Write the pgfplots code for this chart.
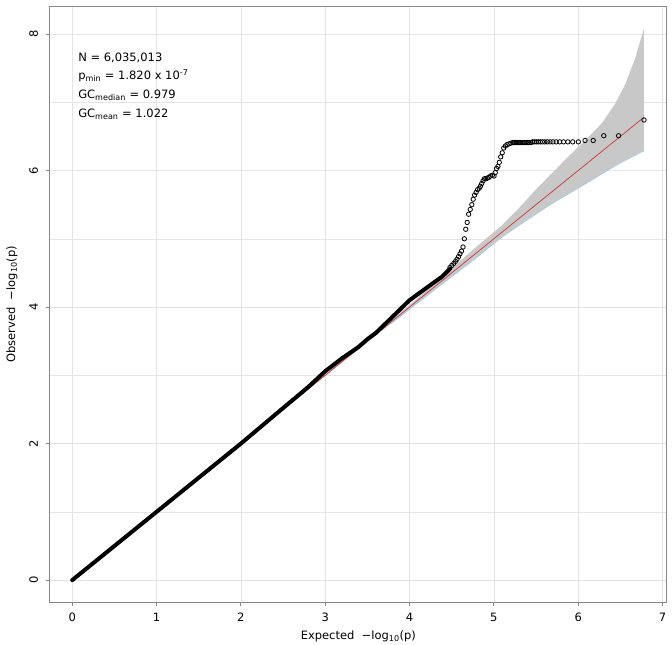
\documentclass[border=0pt]{standalone}
\usepackage{fontspec}
\setmainfont{DejaVu Sans}
\usepackage{pgfplots}
\pgfplotsset{compat=1.18}
\definecolor{bandgrey}{RGB}{200,200,200}
\definecolor{bandedge}{RGB}{170,205,228}
\definecolor{redline}{RGB}{196,70,70}
\definecolor{gridc}{RGB}{228,228,228}
\definecolor{axc}{RGB}{135,135,135}
\begin{document}
\fontsize{11.5}{14}\selectfont
\begin{tikzpicture}
\useasboundingbox (-50pt,-43pt) rectangle (622pt,602pt);
\begin{axis}[
  at={(0pt,0pt)}, anchor=south west,
  scale only axis, width=616.7pt, height=595.3pt,
  xmin=-0.263, xmax=7.05, ymin=-0.32, ymax=8.40,
  xtick={0,1,2,3,4,5,6,7},
  ytick={0,2,4,6,8},
  minor ytick={1,3,5,7},
  grid=both,
  major grid style={gridc, line width=0.6pt},
  minor grid style={gridc, line width=0.6pt},
  minor tick length=0pt,
  major tick length=4pt,
  tick align=outside,
  xtick pos=bottom, ytick pos=left,
  axis line style={axc, line width=1pt},
  every tick/.style={axc, line width=0.8pt},
  /pgf/number format/assume math mode=true,
  tick label style={font=\fontsize{11.5}{14}\selectfont},
  xticklabel shift=3pt,
  yticklabel shift=4pt,
  yticklabel style={rotate=90, anchor=south},
  xlabel={Expected~~−log\textsubscript{10}(p)},
  ylabel={Observed~~−log\textsubscript{10}(p)},
  label style={font=\fontsize{11.5}{14}\selectfont},
  xlabel style={yshift=-1pt},
  ylabel style={yshift=4pt},
  clip=true,
]
% confidence band (upper then lower reversed)
\addplot[draw=none, fill=bandgrey] coordinates {
 (0,0) (2.781,2.788) (3.781,3.803) (4.304,4.35) (4.78,4.87) (5.09,5.19)
 (5.29,5.44) (5.49,5.71) (5.68,5.95) (5.88,6.20) (6.08,6.44) (6.28,6.69)
 (6.44,6.98) (6.56,7.27) (6.67,7.62) (6.78,8.08)
 (6.78,6.29) (6.48,6.10) (6.08,5.80) (5.68,5.51) (5.29,5.19) (5.09,5.02)
 (4.78,4.71) (4.304,4.26) (3.781,3.758) (2.781,2.774) (0,0)
};
\addplot[bandedge, line width=0.8pt] coordinates {
 (6.78,6.29) (6.48,6.10) (6.08,5.80) (5.68,5.51) (5.29,5.19) (5.09,5.02)
 (4.78,4.71) (4.304,4.26) (3.781,3.758)
};
% expected line
\addplot[redline, line width=0.8pt] coordinates {(0,0) (6.781,6.781)};
% dense part of observed
\addplot[black, line width=4pt, line join=round, line cap=round] coordinates {
 (0,0) (0.5,0.5) (1,1.0) (1.5,1.5) (2,2.0) (2.5,2.52) (2.8,2.83) (3.0,3.06)
 (3.2,3.25) (3.4,3.42) (3.5,3.53) (3.6,3.62) (3.7,3.74) (3.8,3.86) (3.9,3.98)
 (4.0,4.10) (4.1,4.19) (4.2,4.28) (4.3,4.37) (4.38,4.44) (4.43,4.50) (4.48,4.56)
};
% sparse tail of observed
\addplot[only marks, mark=o, mark size=2.2pt, mark options={black, line width=0.8pt}] coordinates {
 (4.4797,4.58) (4.5019,4.61) (4.5254,4.64) (4.5452,4.67) (4.5632,4.70) (4.5820,4.74)
 (4.5989,4.78) (4.6163,4.82) (4.6346,4.88) (4.6504,5.00) (4.6668,5.14) (4.6838,5.24)
 (4.7015,5.36) (4.7200,5.43) (4.7393,5.50) (4.7554,5.58) (4.7721,5.64) (4.7895,5.68)
 (4.8076,5.72) (4.8265,5.74) (4.8412,5.77) (4.8564,5.81) (4.8722,5.85) (4.8886,5.88)
 (4.9056,5.88) (4.9234,5.89) (4.9419,5.90) (4.9612,5.92) (4.9814,5.93) (5.0025,5.92)
 (5.0173,5.97) (5.0325,6.03) (5.0483,6.06) (5.0647,6.12) (5.0817,6.20) (5.0995,6.26)
 (5.1179,6.33) (5.1372,6.36) (5.1575,6.38) (5.1786,6.39) (5.2009,6.40) (5.2244,6.41)
 (5.2366,6.41) (5.2492,6.41) (5.2622,6.41) (5.2756,6.41) (5.2893,6.41) (5.3036,6.41)
 (5.3183,6.41) (5.3335,6.41) (5.3493,6.41) (5.3657,6.41) (5.3828,6.41) (5.4005,6.41)
 (5.4190,6.41) (5.4383,6.41) (5.4585,6.42) (5.4797,6.42) (5.5019,6.42) (5.5254,6.42)
 (5.5502,6.42) (5.5766,6.42) (5.6046,6.42) (5.6346,6.42) (5.6668,6.42) (5.7015,6.42)
 (5.7393,6.42) (5.7807,6.42) (5.8265,6.42) (5.8776,6.42) (5.9356,6.42) (6.0025,6.42)
 (6.0817,6.44) (6.1787,6.44) (6.3036,6.51) (6.4797,6.51) (6.7807,6.74)
};
\node[anchor=north west, align=left, inner sep=0pt, font=\fontsize{11.5}{18.7}\selectfont]
  at (axis cs:0.07,7.73)
  {N = 6,035,013\\
   p\textsubscript{min} = 1.820 x 10\textsuperscript{-7}\\
   GC\textsubscript{median} = 0.979\\
   GC\textsubscript{mean} = 1.022};
\end{axis}
\end{tikzpicture}
\end{document}
